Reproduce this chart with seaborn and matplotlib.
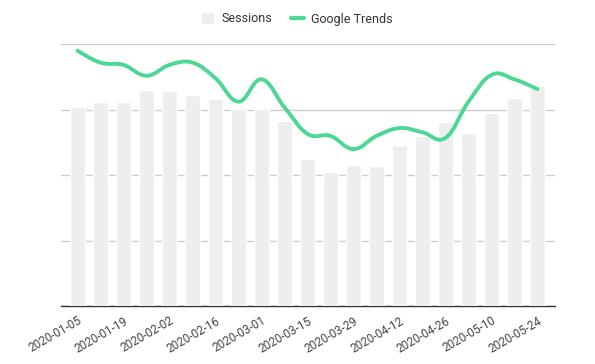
import numpy as np
import pandas as pd
import matplotlib
matplotlib.use("Agg")
import matplotlib.pyplot as plt
import seaborn as sns
from matplotlib.path import Path
from matplotlib.patches import PathPatch
from matplotlib.lines import Line2D
from matplotlib.patches import Patch

weeks = ["2020-01-05", "2020-01-12", "2020-01-19", "2020-01-26", "2020-02-02",
         "2020-02-09", "2020-02-16", "2020-02-23", "2020-03-01", "2020-03-08",
         "2020-03-15", "2020-03-22", "2020-03-29", "2020-04-05", "2020-04-12",
         "2020-04-19", "2020-04-26", "2020-05-03", "2020-05-10", "2020-05-17",
         "2020-05-24"]
sessions = [76.0, 77.9, 77.9, 82.4, 82.1, 80.5, 79.0, 75.2, 75.2, 70.6,
            56.1, 51.1, 53.8, 53.4, 61.5, 64.9, 70.2, 66.0, 73.7, 79.4, 84.0]
trends = [97.4, 92.9, 92.0, 87.9, 92.0, 92.9, 86.9, 78.0, 86.5, 75.8,
          65.7, 64.9, 59.9, 64.9, 67.9, 66.3, 64.2, 78.0, 88.2, 86.5, 82.8]

df = pd.DataFrame({"week": weeks, "Sessions": sessions, "Google Trends": trends})

sns.set_theme(style="white")
plt.rcParams['font.family'] = ['Roboto', 'DejaVu Sans']

fig = plt.figure(figsize=(5.95, 3.64), dpi=100)
ax = fig.add_axes([61/595, 1-306/364, (555-61)/595, (306-44)/364])

bar_color = "#eeeeee"
line_color = "#4dd794"

sns.barplot(data=df, x="week", y="Sessions", color=bar_color, width=0.65,
            saturation=1, ax=ax)
for p in ax.patches:
    p.set_zorder(3)

# smooth curve through trend points (cubic Bezier segments)
x = np.arange(len(trends), dtype=float)
y = np.array(trends)
t = 0.2
verts = [(x[0], y[0])]
codes = [Path.MOVETO]
for i in range(len(x) - 1):
    p0 = (x[i-1], y[i-1]) if i > 0 else (x[i], y[i])
    p1 = (x[i], y[i])
    p2 = (x[i+1], y[i+1])
    p3 = (x[i+2], y[i+2]) if i + 2 < len(x) else (x[i+1], y[i+1])
    c1 = (p1[0] + (p2[0]-p0[0])*t, p1[1] + (p2[1]-p0[1])*t)
    c2 = (p2[0] - (p3[0]-p1[0])*t, p2[1] - (p3[1]-p1[1])*t)
    verts += [c1, c2, p2]
    codes += [Path.CURVE4]*3
ax.add_patch(PathPatch(Path(verts, codes), facecolor="none", edgecolor=line_color,
                       lw=2.8, capstyle="round", joinstyle="round", zorder=5))

ax.set_xlim(-0.72, 20.76)
ax.set_ylim(0, 100)
ax.set_yticks([0, 25, 50, 75, 100])
ax.yaxis.grid(True, color="#cccccc", lw=1, zorder=0)
ax.set_axisbelow(True)
ax.tick_params(axis="y", left=False, labelleft=False)
for s in ["top", "right", "left"]:
    ax.spines[s].set_visible(False)
ax.spines["bottom"].set_color("#333333")
ax.spines["bottom"].set_linewidth(1)
ax.spines["bottom"].set_zorder(1)
ax.set_xlabel("")
ax.set_ylabel("")

ticks = list(range(0, len(weeks), 2))
ax.set_xticks(ticks)
ax.set_xticklabels([weeks[i] for i in ticks], rotation=30, ha="right",
                   rotation_mode="anchor", fontsize=8.5, color="#444444")
ax.tick_params(axis="x", length=0, pad=6)

handles = [Patch(facecolor=bar_color, edgecolor="none"),
           Line2D([0], [0], color=line_color, lw=3)]
fig.legend(handles, ["Sessions", "Google Trends"], loc="center",
           bbox_to_anchor=(0.5, 1-19/364), ncol=2, frameon=False,
           fontsize=9, handlelength=1.0, handleheight=1.0, columnspacing=1.5,
           handletextpad=0.6, labelcolor="#333333")

fig.savefig("out.png", dpi=100)
